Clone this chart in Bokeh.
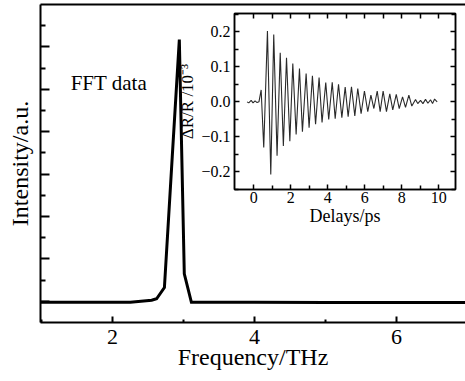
from bokeh.plotting import figure
from bokeh.models import FixedTicker, LinearAxis, Range1d, Label
from bokeh.layouts import column
from bokeh.embed import file_html
from bokeh.resources import INLINE

# ---- main FFT spectrum ----
freq = [0.99, 1.5, 2.0, 2.25, 2.4, 2.55, 2.62, 2.73, 2.84, 2.94, 2.97, 3.01, 3.11, 3.5, 4.0, 5.0, 6.0, 6.97]
intensity = [0.95, 0.95, 0.96, 0.95, 1.0, 1.05, 1.12, 1.65, 7.8, 13.35, 8.6, 2.3, 0.95, 0.95, 0.95, 0.94, 0.94, 0.94]
main_xticks = [2, 4, 6]
main_xminor = [1, 3, 5, 7]
main_yticks = [1, 3, 5, 7, 9, 11, 13]
main_yminor = [2, 4, 6, 8, 10, 12, 14]

# ---- inset: transient reflectivity ----
delay = [-0.36, -0.27, -0.14, -0.04, 0.07, 0.18, 0.28, 0.40, 0.54, 0.74, 0.92, 1.08, 1.26, 1.43, 1.60,
         1.77, 1.95, 2.11, 2.29, 2.47, 2.63, 2.83, 2.99, 3.17, 3.34, 3.53, 3.69, 3.89, 4.05, 4.24,
         4.40, 4.58, 4.76, 4.94, 5.10, 5.28, 5.46, 5.62, 5.80, 5.98, 6.16, 6.33, 6.49, 6.67, 6.83,
         6.99, 7.17, 7.35, 7.51, 7.70, 7.86, 8.04, 8.20, 8.38, 8.54, 8.74, 8.86, 9.01, 9.14, 9.28,
         9.41, 9.55, 9.66, 9.77, 9.91]
dRR = [0.0, -0.003, 0.004, -0.003, 0.003, -0.002, 0.0, 0.034, -0.130, 0.202, -0.207, 0.192, -0.154, 0.140, -0.126,
       0.126, -0.112, 0.109, -0.093, 0.095, -0.085, 0.081, -0.074, 0.074, -0.064, 0.069, -0.059, 0.055, -0.050, 0.056,
       -0.048, 0.050, -0.045, 0.042, -0.042, 0.043, -0.040, 0.038, -0.034, 0.031, -0.028, 0.019, -0.019, 0.031, -0.028,
       0.031, -0.028, 0.023, -0.023, 0.021, -0.019, 0.014, -0.016, 0.019, -0.012, 0.007, -0.005, 0.004, -0.005, 0.007,
       -0.004, 0.006, -0.005, 0.008, 0.0]
inset_xticks = [0, 2, 4, 6, 8, 10]
inset_xminor = [1, 3, 5, 7, 9]
inset_yticks = [-0.2, -0.1, 0.0, 0.1, 0.2]
inset_ylabels = ["\u22120.2", "\u22120.1", "0.0", "0.1", "0.2"]
inset_yminor = [-0.25, -0.15, -0.05, 0.05, 0.15, 0.25]

FONT = "Liberation Serif"

p = figure(width=465, height=381, x_range=Range1d(0.985, 6.97), y_range=Range1d(0, 15),
           output_backend="svg", toolbar_location=None,
           min_border_left=40, min_border_right=0, min_border_top=4, min_border_bottom=59)
p.frame_align = False
p.outline_line_color = None
p.grid.visible = False
p.background_fill_color = "white"
p.border_fill_color = "white"

xa = p.xaxis[0]
xa.ticker = FixedTicker(ticks=main_xticks, minor_ticks=main_xminor)
xa.axis_label = "Frequency/THz"
xa.major_tick_in = 6
xa.major_tick_out = 0
xa.minor_tick_in = 3
xa.minor_tick_out = 0
xa.axis_line_width = 2
xa.major_tick_line_width = 2
xa.minor_tick_line_width = 2
xa.major_label_text_font = FONT
xa.major_label_text_font_size = "22px"
xa.major_label_text_color = "black"
xa.major_label_standoff = 7
xa.axis_label_text_font = FONT
xa.axis_label_text_font_size = "24px"
xa.axis_label_text_font_style = "normal"
xa.axis_label_text_color = "black"
xa.axis_label_standoff = -3

ya = p.yaxis[0]
ya.ticker = FixedTicker(ticks=main_yticks, minor_ticks=main_yminor)
ya.major_label_overrides = {t: "" for t in main_yticks}
ya.major_label_standoff = 0
ya.axis_label = "Intensity/a.u."
ya.major_tick_in = 9
ya.major_tick_out = 0
ya.minor_tick_in = 5
ya.minor_tick_out = 0
ya.axis_line_width = 2
ya.major_tick_line_width = 2
ya.minor_tick_line_width = 2
ya.axis_label_text_font = FONT
ya.axis_label_text_font_size = "24px"
ya.axis_label_text_font_style = "normal"
ya.axis_label_text_color = "black"
ya.axis_label_standoff = 8

top = LinearAxis(ticker=FixedTicker(ticks=[]), major_tick_in=0, major_tick_out=0,
                 minor_tick_in=0, minor_tick_out=0, major_label_standoff=0, axis_line_width=2)
p.add_layout(top, "above")

p.line(freq, intensity, line_width=3, color="black", line_join="miter")

p.add_layout(Label(x=1.41, y=11.3, text="FFT data", text_font=FONT, text_font_size="21px",
                   text_baseline="middle", text_align="left", text_color="black"))

# ---- inset figure ----
q = figure(width=300, height=235, x_range=Range1d(-1.04, 10.9), y_range=Range1d(-0.25, 0.252),
           output_backend="svg", toolbar_location=None,
           min_border_left=74, min_border_right=5, min_border_top=13, min_border_bottom=46,
           border_fill_color=None, background_fill_color="white")
q.frame_align = False
q.margin = (-381, 0, 146, 160)
q.grid.visible = False
q.outline_line_color = "black"
q.outline_line_width = 1.5

qx = q.xaxis[0]
qx.ticker = FixedTicker(ticks=inset_xticks, minor_ticks=inset_xminor)
qx.axis_label = "Delays/ps"
qy = q.yaxis[0]
qy.ticker = FixedTicker(ticks=inset_yticks, minor_ticks=inset_yminor)
qy.major_label_overrides = dict(zip(inset_yticks, inset_ylabels))
qy.axis_label = "\u0394R/R /10\u207b\u00b3"

qt = LinearAxis(ticker=FixedTicker(ticks=list(range(0, 11))), major_label_overrides={i: "" for i in range(0, 11)})
qr = LinearAxis(ticker=FixedTicker(ticks=inset_yticks, minor_ticks=inset_yminor),
                major_label_overrides={t: "" for t in inset_yticks})
q.add_layout(qt, "above")
q.add_layout(qr, "right")
for ax in (qx, qy, qt, qr):
    ax.major_tick_in = 5
    ax.major_tick_out = 0
    ax.minor_tick_in = 4
    ax.minor_tick_out = 0
    ax.axis_line_width = 1.5
    ax.major_tick_line_width = 1.5
    ax.minor_tick_line_width = 1.5
    ax.major_label_text_font = FONT
    ax.major_label_text_font_size = "16px"
    ax.major_label_text_color = "black"
    ax.axis_label_text_font = FONT
    ax.axis_label_text_font_size = "18px"
    ax.axis_label_text_font_style = "normal"
    ax.axis_label_text_color = "black"
qt.major_label_standoff = 0
qr.major_label_standoff = 0
qx.major_label_standoff = 2
qx.axis_label_standoff = 0
qy.major_label_standoff = 4
qy.axis_label_standoff = 1
qy.axis_label_text_font_size = "17px"

q.line(delay, dRR, line_width=1.1, color="#2a2a2a")

layout = column(p, q)
open("out.html", "w").write(file_html(layout, INLINE))
